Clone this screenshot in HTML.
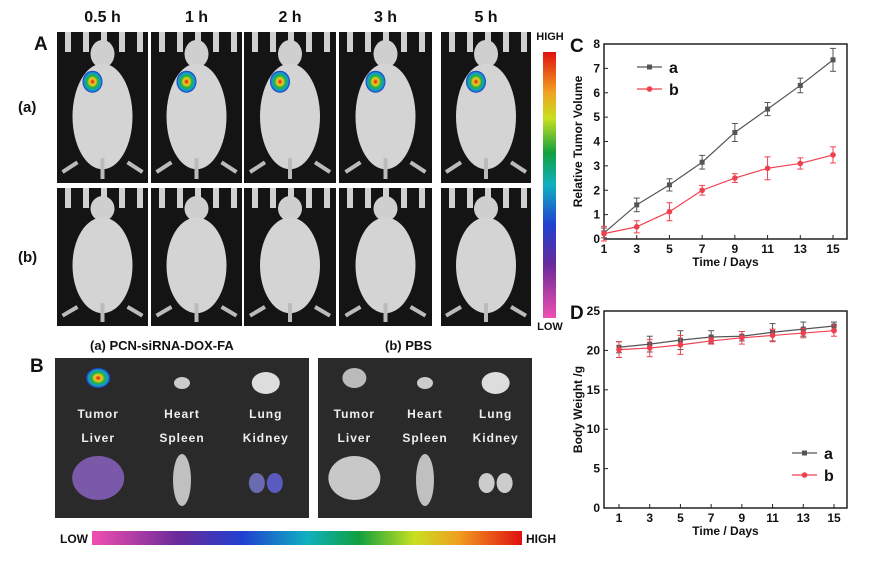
<!DOCTYPE html>
<html><head><meta charset="utf-8"><style>
body{margin:0;background:#fff;width:869px;height:556px;overflow:hidden;font-family:"Liberation Sans",Arial,sans-serif}
svg text{font-family:"Liberation Sans",Arial,sans-serif;font-weight:bold}
</style></head><body>
<svg id="fig" width="869" height="556" viewBox="0 0 869 556" xmlns="http://www.w3.org/2000/svg">
<defs>
<linearGradient id="vbar" x1="0" y1="1" x2="0" y2="0">
<stop offset="0" stop-color="#f04fb0"/><stop offset="0.2" stop-color="#6a2a9a"/><stop offset="0.35" stop-color="#2040d0"/><stop offset="0.5" stop-color="#10b0c0"/><stop offset="0.62" stop-color="#10a040"/><stop offset="0.75" stop-color="#c8e020"/><stop offset="0.85" stop-color="#f0a020"/><stop offset="1" stop-color="#e01010"/>
</linearGradient>
<linearGradient id="hbar" x1="0" y1="0" x2="1" y2="0">
<stop offset="0" stop-color="#f04fb0"/><stop offset="0.2" stop-color="#6a2a9a"/><stop offset="0.35" stop-color="#2040d0"/><stop offset="0.5" stop-color="#10b0c0"/><stop offset="0.62" stop-color="#10a040"/><stop offset="0.75" stop-color="#c8e020"/><stop offset="0.85" stop-color="#f0a020"/><stop offset="1" stop-color="#e01010"/>
</linearGradient>
<radialGradient id="hot"><stop offset="0" stop-color="#e01010"/><stop offset="0.3" stop-color="#f0d020"/><stop offset="0.55" stop-color="#20b040"/><stop offset="0.8" stop-color="#10a0d0"/><stop offset="1" stop-color="#2030c0"/></radialGradient>
</defs>
<g id="panelA"></g>
<g id="panelB"></g>
<g id="chartC"></g>
<g id="chartD"></g>
</svg>
<script>
// Chart C data
const daysC = [1,3,5,7,9,11,13,15];
const volA = [0.25,1.4,2.22,3.15,4.37,5.33,6.3,7.35];
const volAErr = [0.2,0.28,0.25,0.28,0.37,0.27,0.3,0.47];
const volB = [0.22,0.5,1.12,2.0,2.5,2.9,3.1,3.45];
const volBErr = [0.3,0.25,0.37,0.2,0.18,0.47,0.23,0.33];
const ticksCY = [0,1,2,3,4,5,6,7,8];
const ticksCX = [1,3,5,7,9,11,13,15];
// Chart D data
const daysD = [1,3,5,7,9,11,13,15];
const wtA = [20.4,20.8,21.3,21.7,21.8,22.3,22.7,23.1];
const wtAErr = [0.7,1.0,1.2,0.8,0.6,1.1,0.9,0.5];
const wtB = [20.1,20.3,20.7,21.2,21.6,21.9,22.2,22.5];
const wtBErr = [1.0,1.1,1.2,0.4,0.8,0.8,0.6,0.7];
const ticksDY = [0,5,10,15,20,25];
const ticksDX = [1,3,5,7,9,11,13,15];
const timeLabels = ["0.5 h","1 h","2 h","3 h","5 h"];

const NS="http://www.w3.org/2000/svg";
function mk(parent,tag,attrs,txt){const e=document.createElementNS(NS,tag);for(const k in attrs)e.setAttribute(k,attrs[k]);if(txt!==undefined)e.textContent=txt;parent.appendChild(e);return e;}

// ---------- Panel A ----------
const A=document.getElementById('panelA');
const colX=[57,151,244,339,441], colW=[91,91,92,93,90];
let t=mk(A,'text',{x:34,y:50,'font-size':19,fill:'#111'},'A');


t=mk(A,'text',{x:18,y:112,'font-size':15,fill:'#111'},'(a)');


t=mk(A,'text',{x:18,y:262,'font-size':15,fill:'#111'},'(b)');


function mouse(g,cx,top,bottom,hot){
  const h=bottom-top;
  mk(g,'ellipse',{cx:cx,cy:top+h*0.1,rx:12,ry:h*0.1,fill:'#cfcfcf'});
  mk(g,'ellipse',{cx:cx,cy:top+h*0.55,rx:30,ry:h*0.38,fill:'#d4d4d4'});
  mk(g,'rect',{x:cx-2,y:top+h*0.85,width:4,height:h*0.15,fill:'#bbb'});
  mk(g,'line',{x1:cx-25,y1:top+h*0.88,x2:cx-40,y2:top+h*0.95,stroke:'#bbb','stroke-width':4});
  mk(g,'line',{x1:cx+25,y1:top+h*0.88,x2:cx+40,y2:top+h*0.95,stroke:'#bbb','stroke-width':4});
  if(hot){mk(g,'ellipse',{cx:cx-10,cy:top+h*0.3,rx:10,ry:11,fill:'url(#hot)'});}
}
const rows=[[32,183,true],[188,326,false]];
timeLabels.forEach((lab,i)=>{
  const tl=mk(A,'text',{x:colX[i]+colW[i]/2,y:22,'font-size':16,fill:'#111','text-anchor':'middle'},lab);
  
  
  rows.forEach(r=>{
    const g=mk(A,'g',{});
    
    
    mk(g,'rect',{x:colX[i],y:r[0],width:colW[i],height:r[1]-r[0],fill:'#141414'});
    for(let k=0;k<5;k++) mk(g,'rect',{x:colX[i]+8+k*18,y:r[0],width:6,height:20,fill:'#d0d0d0'});
    mouse(g,colX[i]+colW[i]/2,r[0]+8,r[1]-4,r[2]);
  });
});
mk(A,'rect',{x:543,y:52,width:13,height:266,fill:'url(#vbar)'});
t=mk(A,'text',{x:550,y:40,'font-size':11,fill:'#111','text-anchor':'middle'},'HIGH');


t=mk(A,'text',{x:550,y:330,'font-size':11,fill:'#111','text-anchor':'middle'},'LOW');



// ---------- Panel B ----------
const B=document.getElementById('panelB');
t=mk(B,'text',{x:30,y:372,'font-size':19,fill:'#111'},'B');


t=mk(B,'text',{x:90,y:350,'font-size':13,fill:'#111'},'(a) PCN-siRNA-DOX-FA');


t=mk(B,'text',{x:385,y:350,'font-size':13,fill:'#111'},'(b) PBS');


[[55,254,true],[318,214,false]].forEach(p=>{
  const g=mk(B,'g',{});
  
  
  mk(g,'rect',{x:p[0],y:358,width:p[1],height:160,fill:'#2a2a2a'});
  const w=p[1];
  const cols=[p[0]+w*0.17,p[0]+w*0.5,p[0]+w*0.83];
  [['Tumor','Heart','Lung'],['Liver','Spleen','Kidney']].forEach((names,ri)=>{
    names.forEach((n,ci)=>{
      const tt=mk(g,'text',{x:cols[ci],y:ri?442:418,'font-size':12,fill:'#eee','text-anchor':'middle','letter-spacing':'1'},n);
      
      
    });
  });
  mk(g,'ellipse',{cx:cols[0],cy:378,rx:12,ry:10,fill:p[2]?'url(#hot)':'#bbb'});
  mk(g,'ellipse',{cx:cols[1],cy:383,rx:8,ry:6,fill:'#ccc'});
  mk(g,'ellipse',{cx:cols[2],cy:383,rx:14,ry:11,fill:'#ddd'});
  mk(g,'ellipse',{cx:cols[0],cy:478,rx:26,ry:22,fill:p[2]?'#7a5aa8':'#c8c8c8'});
  mk(g,'ellipse',{cx:cols[1],cy:480,rx:9,ry:26,fill:'#c0c0c0'});
  mk(g,'ellipse',{cx:cols[2]-9,cy:483,rx:8,ry:10,fill:p[2]?'#6a6ab0':'#ccc'});
  mk(g,'ellipse',{cx:cols[2]+9,cy:483,rx:8,ry:10,fill:p[2]?'#5a5ac0':'#ccc'});
});
mk(B,'rect',{x:92,y:531,width:430,height:14,fill:'url(#hbar)'});
t=mk(B,'text',{x:60,y:543,'font-size':12,fill:'#111'},'LOW');


t=mk(B,'text',{x:526,y:543,'font-size':12,fill:'#111'},'HIGH');



// ---------- Generic chart ----------
function chart(g,o){
  const L=o.L,R=o.R,T=o.T,Bt=o.B;
  const xs=v=>o.x0+(v-o.xmin)*(o.x1-o.x0)/(o.xmax-o.xmin);
  const ys=v=>Bt-(v-o.ymin)*(Bt-T)/(o.ymax-o.ymin);
  mk(g,'rect',{x:L,y:T,width:R-L,height:Bt-T,fill:'none',stroke:'#222','stroke-width':1.5});
  o.ty.forEach(v=>{
    mk(g,'line',{x1:L,y1:ys(v),x2:L+4,y2:ys(v),stroke:'#222'});
    const tx=mk(g,'text',{x:L-4,y:ys(v)+4,'font-size':12,fill:'#111','text-anchor':'end'},v);
    
    
  });
  o.tx.forEach(v=>{
    mk(g,'line',{x1:xs(v),y1:Bt,x2:xs(v),y2:Bt-4,stroke:'#222'});
    const tx=mk(g,'text',{x:xs(v),y:Bt+14,'font-size':12,fill:'#111','text-anchor':'middle'},v);
    
    
  });
  let tt=mk(g,'text',{x:(L+R)/2,y:Bt+27,'font-size':12,fill:'#111','text-anchor':'middle'},'Time / Days');
  
  
  const ymid=(T+Bt)/2;
  tt=mk(g,'text',{x:L-22,y:ymid,'font-size':12,fill:'#111','text-anchor':'middle',transform:`rotate(-90 ${L-22} ${ymid})`},o.ytitle);
  
  
  tt=mk(g,'text',{x:L-34,y:T+8,'font-size':19,fill:'#111'},o.label);
  
  
  o.series.forEach(s=>{
    const sg=mk(g,'g',{});
    
    
    mk(sg,'polyline',{points:o.xv.map((x,i)=>xs(x)+','+ys(s.v[i])).join(' '),fill:'none',stroke:s.c,'stroke-width':1.2});
    o.xv.forEach((x,i)=>{
      const cx=xs(x),y1=ys(s.v[i]-s.e[i]),y2=ys(s.v[i]+s.e[i]);
      mk(sg,'line',{x1:cx,y1:y1,x2:cx,y2:y2,stroke:s.c,'stroke-width':1});
      mk(sg,'line',{x1:cx-3,y1:y1,x2:cx+3,y2:y1,stroke:s.c});
      mk(sg,'line',{x1:cx-3,y1:y2,x2:cx+3,y2:y2,stroke:s.c});
      if(s.sq) mk(sg,'rect',{x:cx-2.5,y:ys(s.v[i])-2.5,width:5,height:5,fill:s.c});
      else mk(sg,'circle',{cx:cx,cy:ys(s.v[i]),r:2.8,fill:s.c});
    });
  });
  o.series.forEach((s,k)=>{
    const ly=o.legY+k*22, lx=o.legX;
    mk(g,'line',{x1:lx,y1:ly,x2:lx+25,y2:ly,stroke:s.c,'stroke-width':1.2});
    if(s.sq) mk(g,'rect',{x:lx+10,y:ly-2.5,width:5,height:5,fill:s.c});
    else mk(g,'circle',{cx:lx+12.5,cy:ly,r:2.8,fill:s.c});
    const lt=mk(g,'text',{x:lx+32,y:ly+6,'font-size':16,fill:'#111'},s.name);
    
    
  });
}
chart(document.getElementById('chartC'),{L:604,R:847,T:44,B:239,x0:604,x1:833,xmin:1,xmax:15,ymin:0,ymax:8,
  ty:ticksCY,tx:ticksCX,xv:daysC,ytitle:'Relative Tumor Volume',label:'C',legX:637,legY:67,
  series:[{name:'a',v:volA,e:volAErr,c:'#555',sq:true},{name:'b',v:volB,e:volBErr,c:'#f04050',sq:false}]});
chart(document.getElementById('chartD'),{L:604,R:847,T:311,B:508,x0:619,x1:834,xmin:1,xmax:15,ymin:0,ymax:25,
  ty:ticksDY,tx:ticksDX,xv:daysD,ytitle:'Body Weight /g',label:'D',legX:792,legY:453,
  series:[{name:'a',v:wtA,e:wtAErr,c:'#555',sq:true},{name:'b',v:wtB,e:wtBErr,c:'#f04050',sq:false}]});
</script>
</body></html>
